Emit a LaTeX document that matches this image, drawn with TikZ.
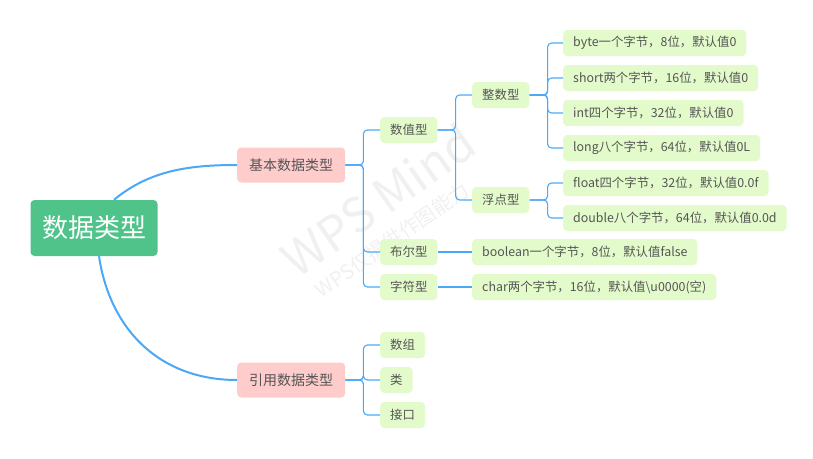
\documentclass[tikz,border=0pt]{standalone}
\usepackage{fontspec}
\setmainfont{Noto Sans CJK SC}
\usetikzlibrary{calc}
\definecolor{lin}{HTML}{4AA8F6}
\definecolor{leaf}{HTML}{E3FBCB}
\definecolor{pinkc}{HTML}{FFCCCC}
\definecolor{rootc}{HTML}{50C38A}
\definecolor{txt}{HTML}{555555}
\tikzset{
  base/.style={anchor=west,rounded corners=4pt,inner xsep=10pt,inner ysep=0pt,minimum height=26pt,text=txt,font=\fontsize{12.4}{13}\selectfont},
  lf/.style={base,fill=leaf},
  mid/.style={base,fill=pinkc,minimum height=35pt,inner xsep=12pt,font=\fontsize{14}{14}\selectfont},
  conn/.style={draw=lin,line width=1.1pt,rounded corners=4pt},
  thick conn/.style={draw=lin,line width=2pt},
}
\begin{document}
\begin{tikzpicture}[x=1pt,y=-1pt]
\useasboundingbox (0,0) rectangle (813,458);
% watermark
\node[rotate=35,text=black!6,font=\fontsize{48}{48}\selectfont] at (378,200) {WPS Mind};
\node[rotate=35,text=black!6,font=\fontsize{20}{20}\selectfont] at (392,240) {WPS仅提供作图能力};
% nodes
\node[fill=rootc,text=white,rounded corners=4pt,minimum width=127pt,minimum height=56pt,font=\fontsize{26}{26}\selectfont] (root) at (94,228) {数据类型};
\node[mid] (jb) at (237,165) {基本数据类型};
\node[mid] (yy) at (237,380) {引用数据类型};
\node[lf] (sz) at (380,130) {数值型};
\node[lf] (be) at (380,252) {布尔型};
\node[lf] (zf) at (380,287) {字符型};
\node[lf] (sg) at (380,345) {数组};
\node[lf] (lei) at (380,380) {类};
\node[lf] (jk) at (380,415) {接口};
\node[lf] (zs) at (472,95) {整数型};
\node[lf] (fd) at (472,200) {浮点型};
\node[lf] (l1) at (563,43) {byte一个字节，8位，默认值0};
\node[lf] (l2) at (563,78) {short两个字节，16位，默认值0};
\node[lf] (l3) at (563,113) {int四个字节，32位，默认值0};
\node[lf] (l4) at (563,148) {long八个字节，64位，默认值0L};
\node[lf] (l5) at (563,183) {float四个字节，32位，默认值0.0f};
\node[lf] (l6) at (563,218) {double八个字节，64位，默认值0.0d};
\node[lf] (bl) at (472,252) {boolean一个字节，8位，默认值false};
\node[lf] (ch) at (472,287) {char两个字节，16位，默认值\textbackslash u0000(空)};
% connectors
\draw[thick conn] (root.north) ++(20,0) coordinate (rt) .. controls (150,170) and (190,165) .. (jb.west);
\draw[thick conn] (root.south) ++(5,0) coordinate (rb) .. controls (110,330) and (160,380) .. (yy.west);
\foreach \c in {sz,be,zf} \draw[conn] (jb.east) -- ([xshift=18]jb.east) |- (\c.west);
\foreach \c in {sg,lei,jk} \draw[conn] (yy.east) -- ([xshift=18]yy.east) |- (\c.west);
\foreach \c in {zs,fd} \draw[conn] (sz.east) -- ([xshift=18]sz.east) |- (\c.west);
\foreach \c in {l1,l2,l3,l4} \draw[conn] (zs.east) -- ([xshift=18]zs.east) |- (\c.west);
\foreach \c in {l5,l6} \draw[conn] (fd.east) -- ([xshift=18]fd.east) |- (\c.west);
\draw[conn] (be.east) -- (bl.west);
\draw[conn] (zf.east) -- (ch.west);
\end{tikzpicture}
\end{document}
